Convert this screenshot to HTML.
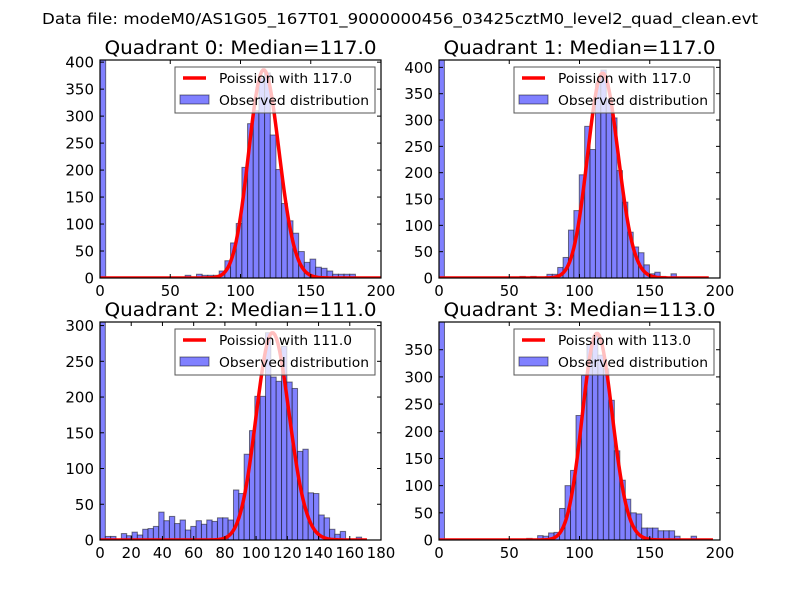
<!DOCTYPE html>
<html><head><meta charset="utf-8"><style>
html,body{margin:0;padding:0;background:#fff;}
svg{display:block;font-family:"DejaVu Sans","Liberation Sans",sans-serif;}
</style></head><body>
<svg id="fig" width="800" height="600" viewBox="0 0 800 600" xmlns="http://www.w3.org/2000/svg">
<rect width="800" height="600" fill="#fff"/>
<text x="400" y="24" text-anchor="middle" font-size="15.5" textLength="716" lengthAdjust="spacingAndGlyphs">Data file: modeM0/AS1G05_167T01_9000000456_03425cztM0_level2_quad_clean.evt</text>
</svg>
<script>
const counts0 = [420,0,0,0,0,0,0,0,0,0, 0,0,0,0,0,5,0,7,5,5, 5,13,32,65,101,205,286,310,370,380, 265,201,138,106,83,49,29,35,20,18, 13,7,7,7,7,0,0,0,0,0];
const counts1 = [430,0,0,0,0,0,0,0,0,0, 0,0,0,0,0,3,0,3,0,0, 7,7,20,39,91,128,196,288,244,370, 395,340,304,204,144,87,59,48,25,8, 11,3,0,8,0,0,0,0,0,0];
const counts2 = [320,5,5,0,9,6,11,7,15,16, 19,39,27,33,23,28,14,19,27,22, 28,26,31,31,28,70,65,120,153,201, 201,290,228,222,271,221,212,124,127,66, 65,35,31,15,8,12,0,0,4,0];
const counts3 = [410,0,0,0,0,0,0,0,0,0, 0,0,0,0,0,0,3,0,8,7, 13,14,58,100,128,229,303,360,375,340, 315,257,164,110,75,50,48,22,22,22, 17,17,17,7,0,0,7,0,0,0];
const binWidths = [4.04, 3.84, 3.42, 3.9];
const medians = [117, 117, 111, 113];
const poissonScale = [10460, 10550, 7660, 10130];
const poissonMax = [200, 192, 171, 195];
const xMax = [200, 200, 180, 200];
const yMax = [404, 414, 305, 401];
const xTicks0 = [0,50,100,150,200];
const xTicks2 = [0,20,40,60,80,100,120,140,160,180];
const yTicks0 = [0,50,100,150,200,250,300,350,400];
const yTicks2 = [0,50,100,150,200,250,300];
const yTicks3 = [0,50,100,150,200,250,300,350];

const NS = "http://www.w3.org/2000/svg";
const svg = document.getElementById('fig');
function mk(tag, attrs, parent){const e=document.createElementNS(NS,tag);for(const k in attrs)e.setAttribute(k,attrs[k]);(parent||svg).appendChild(e);return e;}
function lgamma(n){let s=0;for(let i=2;i<=n;i++)s+=Math.log(i);return s;}

const panels = [
 {x0:100,x1:381,y0:60,y1:278,counts:counts0,xt:xTicks0,yt:yTicks0},
 {x0:439,x1:720,y0:60,y1:278,counts:counts1,xt:xTicks0,yt:yTicks0},
 {x0:100,x1:381,y0:322,y1:540,counts:counts2,xt:xTicks2,yt:yTicks2},
 {x0:439,x1:720,y0:322,y1:540,counts:counts3,xt:xTicks0,yt:yTicks3}
];
panels.forEach((p,i)=>{
  const g = mk('g',{});
  
  
  const sx = v => p.x0 + (v/xMax[i])*(p.x1-p.x0);
  const sy = v => p.y1 - (v/yMax[i])*(p.y1-p.y0);
  const cid = 'clip'+i;
  const cp = mk('clipPath',{id:cid},g);
  mk('rect',{x:p.x0,y:p.y0,width:p.x1-p.x0,height:p.y1-p.y0},cp);
  const plot = mk('g',{'clip-path':'url(#'+cid+')'},g);
  p.counts.forEach((c,k)=>{
    if(c<=0) return;
    const a=sx(k*binWidths[i]), b=sx((k+1)*binWidths[i]);
    const r = mk('rect',{x:a,y:sy(c),width:b-a,height:sy(0)-sy(c),fill:'#8080ff',stroke:'rgba(0,0,0,0.5)','stroke-width':1},plot);
    
    
  });
  const mu = medians[i]; let d='';
  for(let x=0;x<=poissonMax[i];x++){
    const v = poissonScale[i]*Math.exp(x*Math.log(mu)-mu-lgamma(x));
    d += (x?'L':'M')+sx(x).toFixed(2)+' '+sy(v).toFixed(2);
  }
  const ln = mk('path',{d:d,fill:'none',stroke:'#ff0000','stroke-width':3.5,'stroke-linejoin':'round'},plot);
  
  
  p.xt.forEach(t=>{
    const x=sx(t);
    mk('line',{x1:x,x2:x,y1:p.y1,y2:p.y1-4,stroke:'#000'},g);
    mk('line',{x1:x,x2:x,y1:p.y0,y2:p.y0+4,stroke:'#000'},g);
    const tl = mk('text',{x:x,y:p.y1+18,'text-anchor':'middle','font-size':15},g);
    tl.textContent=t;
    
    
  });
  p.yt.forEach(t=>{
    const y=sy(t);
    mk('line',{x1:p.x0,x2:p.x0+4,y1:y,y2:y,stroke:'#000'},g);
    mk('line',{x1:p.x1,x2:p.x1-4,y1:y,y2:y,stroke:'#000'},g);
    const tl = mk('text',{x:p.x0-6,y:y+5.5,'text-anchor':'end','font-size':15},g);
    tl.textContent=t;
    
    
  });
  const lg = mk('g',{},g);
  
  
  const lx = p.x1-206, ly = p.y0+7;
  mk('rect',{x:lx,y:ly,width:200,height:46,fill:'rgba(255,255,255,0.75)',stroke:'#555','stroke-width':1},lg);
  mk('line',{x1:lx+8,x2:lx+31,y1:ly+11,y2:ly+11,stroke:'#ff0000','stroke-width':3.5},lg);
  const t1 = mk('text',{x:lx+44,y:ly+16,'font-size':13,textLength:133,lengthAdjust:'spacingAndGlyphs'},lg);
  t1.textContent='Poission with '+mu.toFixed(1);
  
  
  mk('rect',{x:lx+5,y:ly+28,width:29,height:9,fill:'#8080ff',stroke:'rgba(0,0,0,0.5)'},lg);
  const t2 = mk('text',{x:lx+44,y:ly+38,'font-size':13,textLength:150,lengthAdjust:'spacingAndGlyphs'},lg);
  t2.textContent='Observed distribution';
  
  
  mk('rect',{x:p.x0,y:p.y0,width:p.x1-p.x0,height:p.y1-p.y0,fill:'none',stroke:'#000','stroke-width':1.2},g);
  const tt = mk('text',{x:(p.x0+p.x1)/2,y:p.y0-6,'text-anchor':'middle','font-size':18.5,textLength:272,lengthAdjust:'spacingAndGlyphs'},g);
  tt.textContent='Quadrant '+i+': Median='+mu.toFixed(1);
  
  
});
</script>
</body></html>
